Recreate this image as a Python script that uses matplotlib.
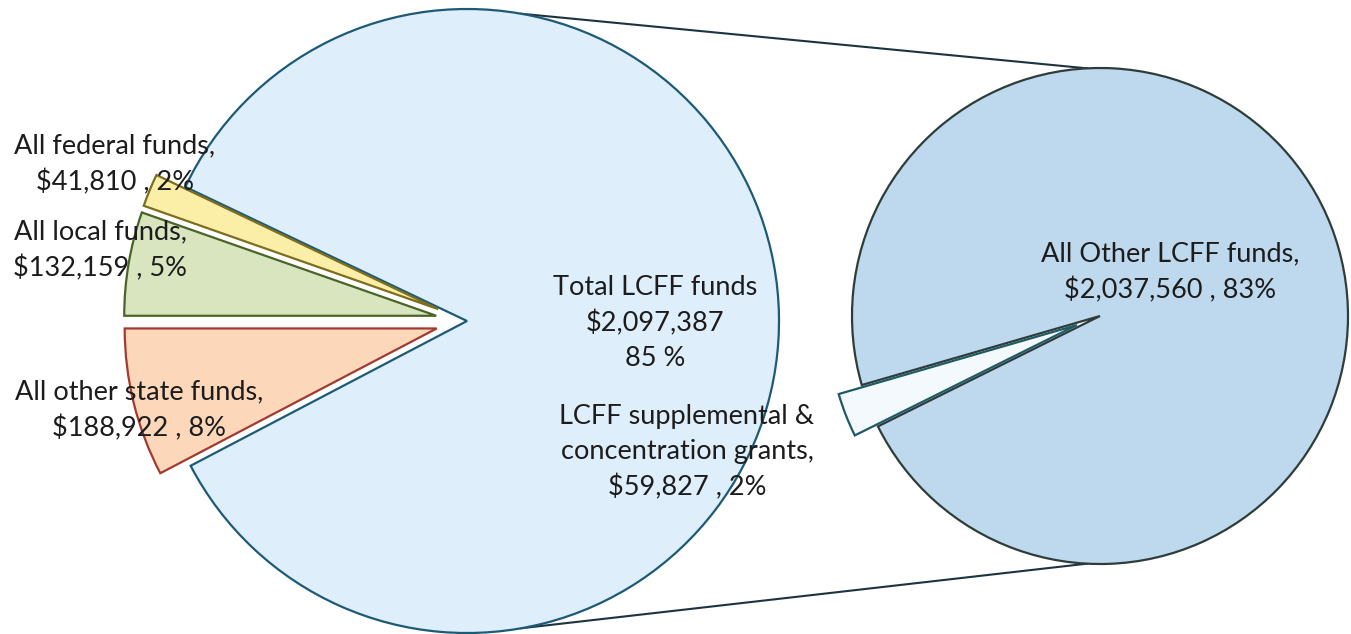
import matplotlib.pyplot as plt
import numpy as np

# pie-of-pie: school funding sources, LCFF split out on the right

main_labels = ["Total LCFF funds", "All federal funds", "All local funds", "All other state funds"]
main_values = [2097387, 41810, 132159, 188922]
main_pcts = [85, 2, 5, 8]
main_colors = ["#dfeefb", "#fbeea6", "#d8e5bf", "#fcd7ba"]
main_edges = ["#1d5a76", "#7d6d1e", "#4a6428", "#a23a30"]

sub_labels = ["LCFF supplemental &\nconcentration grants", "All Other LCFF funds"]
sub_values = [59827, 2037560]
sub_pcts = [2, 83]
sub_colors = ["#f3f9fd", "#bed8ee"]
sub_edges = ["#1f5a66", "#2e3d3a"]

W, H = 1351, 634
plt.rcParams['font.family'] = ['Lato', 'DejaVu Sans']

fig = plt.figure(figsize=(W / 100, H / 100), dpi=100)
ax = fig.add_axes([0, 0, 1, 1])

# left pie (explode is in data units when a center is given)
c1, r1 = (467, 313), 312
start1 = 180 + 360 * main_values[3] / sum(main_values)
e1 = 0.1 * r1
w1, _ = ax.pie(main_values, colors=main_colors, center=c1, radius=r1,
               startangle=start1, explode=[0, e1, e1, e1],
               wedgeprops=dict(linewidth=1.6))
for w, ec in zip(w1, main_edges):
    w.set_edgecolor(ec)
    w.set_zorder(3)

# right pie
c2, r2 = (1100, 318), 248
frac = sub_values[0] / sum(sub_values)
start2 = 201.3 - 180 * frac
w2, _ = ax.pie(sub_values, colors=sub_colors, center=c2, radius=r2,
               startangle=start2, explode=[0.1 * r2, 0],
               wedgeprops=dict(linewidth=1.6))
for w, ec in zip(w2, sub_edges):
    w.set_edgecolor(ec)
w2[0].set_zorder(4)
w2[1].set_zorder(3)

# connector lines
for a1, a2 in [(80, 93), (-80, -93)]:
    p1 = (c1[0] + r1 * np.cos(np.radians(a1)), c1[1] + r1 * np.sin(np.radians(a1)))
    p2 = (c2[0] + r2 * np.cos(np.radians(a2)), c2[1] + r2 * np.sin(np.radians(a2)))
    ax.plot([p1[0], p2[0]], [p1[1], p2[1]], color="#1e3340", lw=1.5, zorder=2)

txt = dict(fontsize=19.5, color="#1c1c1c", ha="center", va="center", linespacing=1.5, zorder=6)

ax.text(115, H - 164, f"{main_labels[1]},\n${main_values[1]:,} , {main_pcts[1]}%", **txt)
ax.text(100, H - 250, f"{main_labels[2]},\n${main_values[2]:,} , {main_pcts[2]}%", **txt)
ax.text(139, H - 410, f"{main_labels[3]},\n${main_values[3]:,} , {main_pcts[3]}%", **txt)
ax.text(655, H - 323, f"{main_labels[0]}\n${main_values[0]:,}\n{main_pcts[0]} %", **txt)
ax.text(687, H - 452, f"{sub_labels[0]},\n${sub_values[0]:,} , {sub_pcts[0]}%", **txt)
ax.text(1170, H - 272, f"{sub_labels[1]},\n${sub_values[1]:,} , {sub_pcts[1]}%", **txt)

ax.set_xlim(0, W)
ax.set_ylim(0, H)
ax.set_aspect('equal')
ax.axis('off')

fig.savefig("out.png", dpi=100, facecolor="white")
